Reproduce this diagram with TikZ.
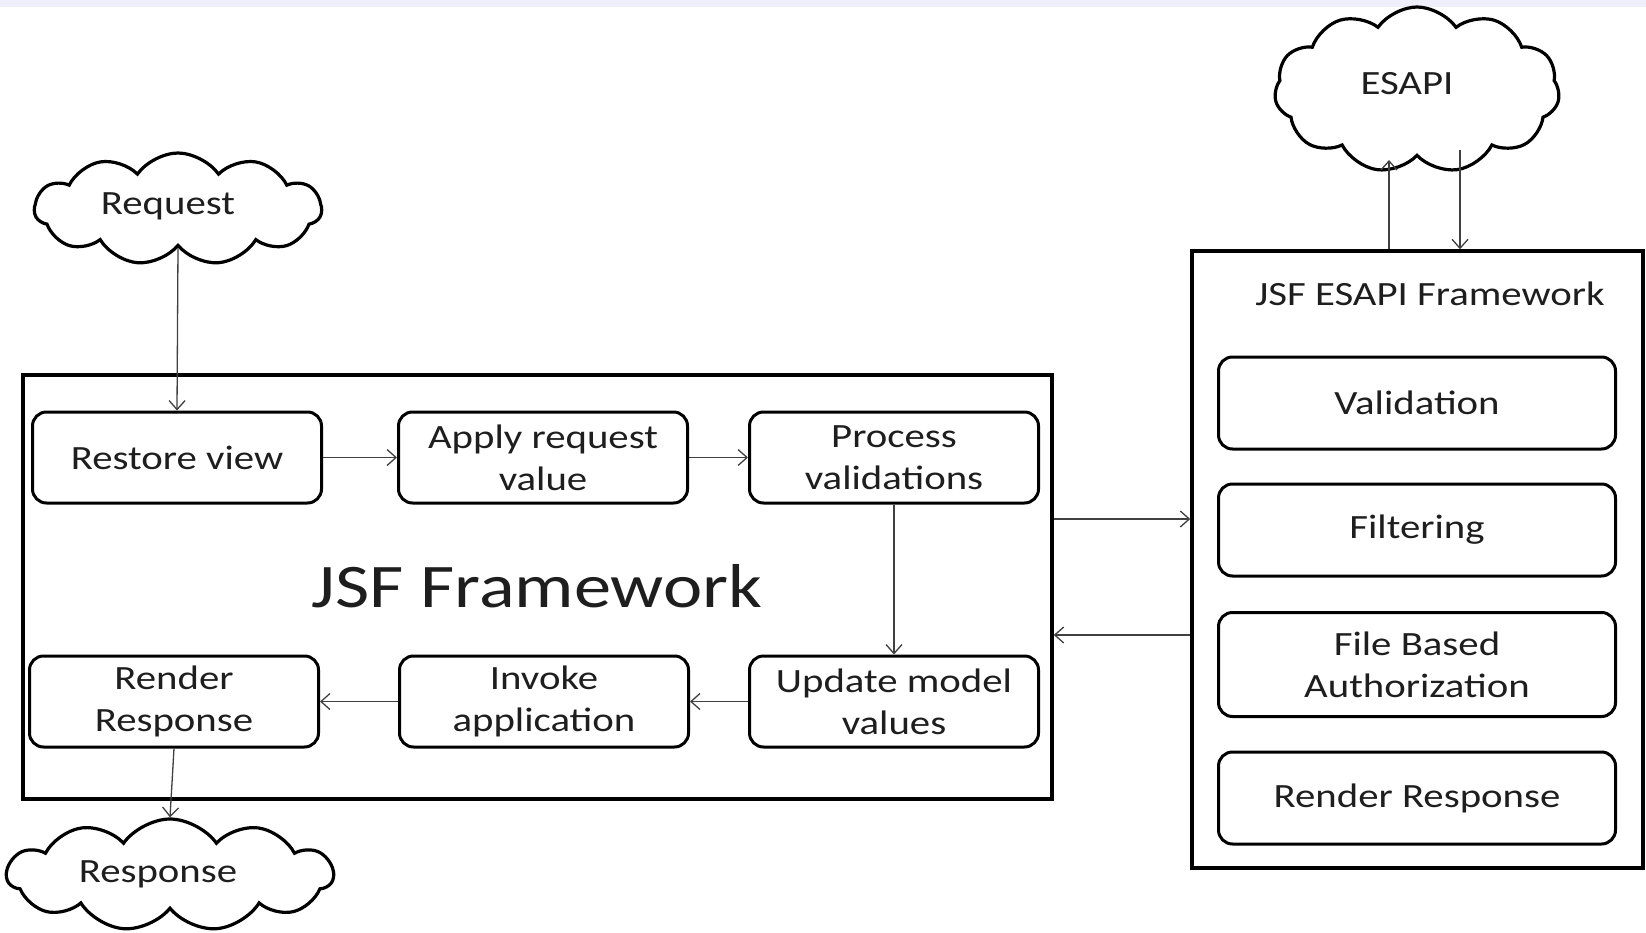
\documentclass[tikz,border=0pt]{standalone}
\usepackage{fontspec}
\setmainfont{Carlito}[FakeStretch=1.2]
\usetikzlibrary{shapes.symbols,arrows.meta}
\definecolor{band}{RGB}{238,239,250}
\definecolor{ink}{RGB}{30,30,30}
\begin{document}
\begin{tikzpicture}[x=1pt,y=-1pt,
  txt/.style={text=ink, font=\fontsize{34}{42}\selectfont, align=center, inner sep=0},
  stage/.style={txt, draw=black, line width=3pt, rounded corners=14pt, minimum width=289pt, minimum height=91pt},
  sidebox/.style={stage, minimum width=397pt, minimum height=92pt},
  frame/.style={draw=black, line width=3.5pt, inner sep=0},
  conn/.style={draw=black!75, line width=1.3pt, -{Straight Barb[length=9pt,width=16pt,line width=1.3pt]}},
  puff/.style={cloud, cloud puffs=11, cloud puff arc=110, draw=black, line width=3.2pt, inner sep=0}
]
\useasboundingbox (0,0) rectangle (1646,933);
\fill[white] (0,0) rectangle (1646,933);
\fill[band] (0,0) rectangle (1646,7);

% frames
\node[frame, minimum width=1029pt, minimum height=424pt] (jsf) at (537.5,587) {};
\node[frame, minimum width=451pt, minimum height=617pt] (esf) at (1417.5,559.5) {};

% JSF stages
\node[stage] (restore) at (177,457.5) {Restore view};
\node[stage] (apply) at (543,457.5) {Apply request\\value};
\node[stage] (process) at (894,457.5) {Process\\validations};
\node[stage] (render) at (174,701.5) {Render\\Response};
\node[stage] (invoke) at (544,701.5) {Invoke\\application};
\node[stage] (update) at (894,701.5) {Update model\\values};

\node[txt, font=\fontsize{62}{70}\selectfont] (jsft) at (537,586) {JSF Framework};
\node[txt] (esft) at (1430,294) {JSF ESAPI Framework};

% ESAPI stages
\node[sidebox] (valid) at (1417,403) {Validation};
\node[sidebox] (filter) at (1417,530) {Filtering};
\node[sidebox, minimum height=104pt] (fileauth) at (1417,664.5) {File Based\\Authorization};
\node[sidebox] (rresp) at (1417,798) {Render Response};

% clouds
\node[puff, minimum width=287pt, minimum height=112pt] (req) at (178,209) {};
\node[txt] (reqt) at (168,206) {Request};
\node[puff, minimum width=326pt, minimum height=112pt] (resp) at (170,875) {};
\node[txt] (respt) at (158,874) {Response};
\node[puff, minimum width=285pt, minimum height=166pt] (esapi) at (1417,90) {};
\node[txt] (esapit) at (1407,84) {ESAPI};

% connectors
\draw[conn] (req.south) -- (restore.north);
\draw[conn] (restore) -- (apply);
\draw[conn] (apply) -- (process);
\draw[conn] (process) -- (update);
\draw[conn] (update) -- (invoke);
\draw[conn] (invoke) -- (render);
\draw[conn] (render.south) -- (resp.north);

\coordinate (r1) at (0,519);
\coordinate (r2) at (0,635);
\draw[conn] (jsf.east |- r1) -- (esf.west |- r1);
\draw[conn] (esf.west |- r2) -- (jsf.east |- r2);

\coordinate (u1) at (1389,160);
\coordinate (d1) at (1460,150);
\draw[conn] (esf.north -| u1) -- (u1);
\draw[conn] (d1) -- (esf.north -| d1);
\end{tikzpicture}
\end{document}
